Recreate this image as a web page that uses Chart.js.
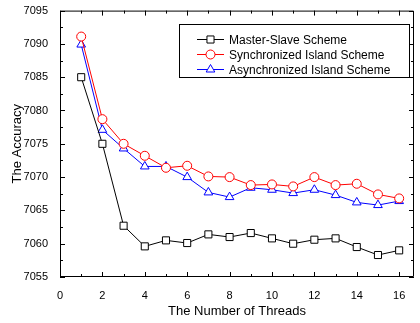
<!DOCTYPE html>
<html>
<head>
<meta charset="utf-8">
<script src="https://cdn.jsdelivr.net/npm/chart.js@4"></script>
<style>
  html, body { margin: 0; padding: 0; background: #fff; }
  canvas { display: block; }
</style>
</head>
<body>
<canvas id="accChart" width="420" height="323"></canvas>
<script>
// data
const threads = [1, 2, 3, 4, 5, 6, 7, 8, 9, 10, 11, 12, 13, 14, 15, 16];
const masterSlave = [7085.0, 7075.0, 7062.7, 7059.6, 7060.5, 7060.1, 7061.4, 7061.0, 7061.6, 7060.8, 7060.0, 7060.6, 7060.8, 7059.5, 7058.3, 7059.0];
const syncIsland = [7091.1, 7078.7, 7075.0, 7073.2, 7071.4, 7071.7, 7070.1, 7070.0, 7068.8, 7068.9, 7068.6, 7070.0, 7068.8, 7069.0, 7067.4, 7066.8];
const asyncIsland = [7089.9, 7077.1, 7074.3, 7071.6, 7071.6, 7070.0, 7067.7, 7067.0, 7068.4, 7068.1, 7067.6, 7068.1, 7067.3, 7066.2, 7065.8, 7066.4];
const seriesNames = ["Master-Slave Scheme", "Synchronized Island Scheme", "Asynchronized Island Scheme"];
const xTicks = [0, 2, 4, 6, 8, 10, 12, 14, 16];
const yTicks = [7055, 7060, 7065, 7070, 7075, 7080, 7085, 7090, 7095];

const FONT = "'Liberation Sans', Arial, sans-serif";

function pts(ys) {
  return threads.map((x, i) => ({ x: x, y: ys[i] }));
}

function makeSet(label, ys, color, style, r) {
  return {
    label: label,
    data: pts(ys),
    showLine: true,
    borderColor: color,
    borderWidth: 1,
    pointStyle: style,
    pointRadius: r,
    pointBackgroundColor: "#fff",
    pointBorderColor: color,
    pointBorderWidth: 1,
  };
}

// inward ticks on all four sides, like the original plot
const frameTicks = {
  id: "frameTicks",
  afterDraw(chart) {
    const ctx = chart.ctx;
    const a = chart.chartArea;
    const xs = chart.scales.x, ys = chart.scales.y;
    ctx.save();
    ctx.strokeStyle = "#000";
    ctx.lineWidth = 1;
    ctx.beginPath();
    ctx.rect(a.left + 0.5, a.top + 0.5, a.right - a.left - 1, a.bottom - a.top - 1);
    for (let v = 0; v <= 16; v++) {
      const px = Math.round(xs.getPixelForValue(v)) + 0.5;
      const len = v % 2 === 0 ? 5 : 3;
      ctx.moveTo(px, a.bottom); ctx.lineTo(px, a.bottom - len);
      ctx.moveTo(px, a.top); ctx.lineTo(px, a.top + len);
    }
    for (let v = 7055; v <= 7095; v += 2.5) {
      const py = Math.round(ys.getPixelForValue(v)) + 0.5;
      const len = v % 5 === 0 ? 5 : 3;
      ctx.moveTo(a.left, py); ctx.lineTo(a.left + len, py);
      ctx.moveTo(a.right, py); ctx.lineTo(a.right - len, py);
    }
    ctx.stroke();
    ctx.restore();
  }
};

// boxed legend inside the plot
const boxLegend = {
  id: "boxLegend",
  afterDraw(chart) {
    const ctx = chart.ctx;
    const bx = 179.5, by = 24.5, bw = 230, bh = 53;
    ctx.save();
    ctx.fillStyle = "#fff";
    ctx.fillRect(bx, by, bw, bh);
    ctx.strokeStyle = "#000";
    ctx.lineWidth = 1;
    ctx.strokeRect(bx, by, bw, bh);
    ctx.font = "12px " + FONT;
    ctx.textBaseline = "middle";
    chart.data.datasets.forEach((ds, i) => {
      const y = 39.5 + i * 15;
      ctx.strokeStyle = ds.borderColor;
      ctx.beginPath();
      ctx.moveTo(197, y); ctx.lineTo(224, y);
      ctx.stroke();
      ctx.fillStyle = "#fff";
      Chart.helpers.drawPoint(ctx, {
        pointStyle: ds.pointStyle, radius: ds.pointRadius, borderWidth: 1
      }, 210.5, y);
      ctx.fillStyle = "#000";
      ctx.fillText(ds.label, 229, y + 1);
    });
    ctx.restore();
  }
};

const ctx = document.getElementById("accChart").getContext("2d");
const accChart = new Chart(ctx, {
  type: "scatter",
  data: {
    datasets: [
      makeSet(seriesNames[0], masterSlave, "#000000", "rect", 5),
      makeSet(seriesNames[1], syncIsland, "#ff0000", "circle", 4.5),
      makeSet(seriesNames[2], asyncIsland, "#0000ff", "triangle", 5),
    ],
  },
  options: {
    responsive: false,
    animation: false,
    layout: { padding: { top: 7, right: 2, left: 0, bottom: 0 } },
    plugins: {
      legend: { display: false },
      tooltip: { enabled: false },
    },
    scales: {
      x: {
        type: "linear",
        min: 0,
        max: 16.7,
        grid: { display: false },
        border: { display: false },
        afterBuildTicks: (s) => { s.ticks = xTicks.map(v => ({ value: v })); },
        afterFit: (s) => { s.height = 46; },
        ticks: { color: "#000", font: { family: FONT, size: 11 }, padding: 4, maxRotation: 0, callback: (v) => String(v) },
        title: {
          display: true,
          text: "The Number of Threads",
          color: "#000",
          font: { family: FONT, size: 13 },
          padding: { top: 4 },
        },
      },
      y: {
        min: 7055,
        max: 7095,
        grid: { display: false },
        border: { display: false },
        afterBuildTicks: (s) => { s.ticks = yTicks.map(v => ({ value: v })); },
        afterFit: (s) => { s.width = 60; },
        ticks: { color: "#000", font: { family: FONT, size: 11 }, padding: 4, callback: (v) => String(v) },
        title: {
          display: true,
          text: "The Accuracy",
          color: "#000",
          font: { family: FONT, size: 13 },
          padding: { top: 10, bottom: 0 },
        },
      },
    },
  },
  plugins: [frameTicks, boxLegend],
});
</script>
</body>
</html>
